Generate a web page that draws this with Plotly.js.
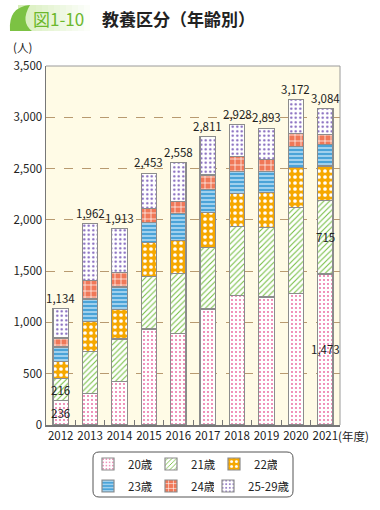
<!DOCTYPE html>
<html>
<head>
<meta charset="utf-8">
<script src="https://cdn.plot.ly/plotly-3.0.1.min.js"></script>
<style>html,body{margin:0;padding:0;background:#fff;}#chart{width:380px;height:510px;}</style>
</head>
<body>
<div id="chart"></div>
<script>
const years = ['2012','2013','2014','2015','2016','2017','2018','2019','2020','2021'];
const totals = [1134,1962,1913,2453,2558,2811,2928,2893,3172,3084];
const age20 = [236,310,423,936,890,1131,1264,1248,1281,1473];
const age21 = [216,407,415,514,586,597,675,675,843,715];
const age22 = [167,293,286,326,326,342,320,342,386,338];
const age23 = [141,219,222,202,258,228,212,206,205,205];
const age24 = [88,182,143,131,117,139,146,120,127,104];
const age25_29 = totals.map((t,i)=>t-age20[i]-age21[i]-age22[i]-age23[i]-age24[i]);
const seriesNames = ['20歳','21歳','22歳','23歳','24歳','25-29歳'];

const FONT = '"Noto Sans CJK JP", "Noto Sans", sans-serif';
const W = 380, H = 510, L = 46, R = 340, T = 66, B = 425;
const px = x => (x - L) / (R - L);
const py = y => (B - y) / (B - T);

const styles = [
  {bg:'#ffffff', fg:'#ea5f9a', shape:'.', size:4, solidity:0.16},
  {bg:'#ffffff', fg:'#78bf45', shape:'/', size:4, solidity:0.28},
  {bg:'#f6a800', fg:'#ffffff', shape:'.', size:6, solidity:0.3},
  {bg:'#4aa3d8', fg:'#e4f4ff', shape:'-', size:4, solidity:0.28},
  {bg:'#f07858', fg:'#ffffff', shape:'+', size:6, solidity:0.22},
  {bg:'#ffffff', fg:'#7a5cb8', shape:'.', size:4.5, solidity:0.2}
];
const data = [age20,age21,age22,age23,age24,age25_29];
const legendOf = ['legend','legend','legend','legend2','legend2','legend3'];

const traces = data.map((vals,k)=>({
  type:'bar', x:years, y:vals, name:seriesNames[k], width:0.52,
  legend: legendOf[k],
  marker:{color:styles[k].bg, line:{color:'#8c8c8c', width:1.2},
    pattern:{shape:styles[k].shape, fgcolor:styles[k].fg, bgcolor:styles[k].bg, size:styles[k].size, solidity:styles[k].solidity, fillmode:'replace'}},
  hoverinfo:'skip'
}));

const fmt = v => v.toLocaleString('en-US');
const tf = {size:11.5, color:'#222', family:FONT};
const ann = [];
years.forEach((yr,i)=>{
  ann.push({x:i, y:totals[i], text:fmt(totals[i]), showarrow:false, yanchor:'bottom', yshift:1, font:tf});
});
// inside labels
ann.push({x:0, y:age20[0]/2, text:fmt(age20[0]), showarrow:false, font:tf});
ann.push({x:0, y:age20[0]+age21[0]/2, text:fmt(age21[0]), showarrow:false, font:tf});
ann.push({x:9, y:age20[9]/2, text:fmt(age20[9]), showarrow:false, font:tf});
ann.push({x:9, y:age20[9]+age21[9]/2, text:fmt(age21[9]), showarrow:false, font:tf});
// axis unit labels
ann.push({xref:'paper', yref:'paper', x:px(22), y:py(47), xanchor:'center', yanchor:'middle', text:'(人)', showarrow:false, font:tf});
ann.push({xref:'paper', yref:'paper', x:px(336), y:py(436), xanchor:'left', yanchor:'middle', text:'(年度)', showarrow:false, font:tf});
// title
ann.push({xref:'paper', yref:'paper', x:px(31), y:py(18), xanchor:'left', yanchor:'middle', text:'図1-10', showarrow:false, font:{size:17,color:'#6cb82c',family:FONT}});
ann.push({xref:'paper', yref:'paper', x:px(100), y:py(18), xanchor:'left', yanchor:'middle', text:'<b>教養区分（年齢別）</b>', showarrow:false, font:{size:17,color:'#222',family:FONT}});

const shapes = [];
// badge gradient
for (let i=0;i<12;i++){
  const x0 = 18 + i*6, x1 = x0 + 6;
  shapes.push({type:'rect', xref:'paper', yref:'paper', x0:px(x0), x1:px(x1), y0:py(31), y1:py(5), fillcolor:'rgba(205,234,170,'+(0.8*(1-i/12)).toFixed(3)+')', line:{width:0}, layer:'below'});
}
// leaf
shapes.push({type:'path', xref:'paper', yref:'paper',
  path:`M ${px(30)} ${py(5)} Q ${px(8)} ${py(7)} ${px(10)} ${py(31)} L ${px(32)} ${py(31)} Q ${px(20)} ${py(22)} ${px(30)} ${py(5)} Z`,
  fillcolor:'#7cc243', line:{width:0}});
// plot border top/right
shapes.push({type:'line', xref:'paper', yref:'paper', x0:0, x1:1, y0:1, y1:1, line:{color:'#9a9a9a', width:1}});
shapes.push({type:'line', xref:'paper', yref:'paper', x0:1, x1:1, y0:0, y1:1, line:{color:'#9a9a9a', width:1}});
// legend frame (rounded)
{
  const x0=93, x1=293, y0=452, y1=497, r=6;
  shapes.push({type:'path', xref:'paper', yref:'paper', layer:'above',
    path:`M ${px(x0+r)} ${py(y0)} L ${px(x1-r)} ${py(y0)} Q ${px(x1)} ${py(y0)} ${px(x1)} ${py(y0+r)} L ${px(x1)} ${py(y1-r)} Q ${px(x1)} ${py(y1)} ${px(x1-r)} ${py(y1)} L ${px(x0+r)} ${py(y1)} Q ${px(x0)} ${py(y1)} ${px(x0)} ${py(y1-r)} L ${px(x0)} ${py(y0+r)} Q ${px(x0)} ${py(y0)} ${px(x0+r)} ${py(y0)} Z`,
    line:{color:'#555', width:1}});
}

const legBase = {orientation:'h', xref:'container', yref:'container', xanchor:'left', yanchor:'middle',
  bgcolor:'rgba(0,0,0,0)', borderwidth:0, itemwidth:30, entrywidth:18, entrywidthmode:'pixels',
  font:{size:11.5, family:FONT, color:'#222'}, traceorder:'normal', itemclick:false};

const layout = {
  width:W, height:H,
  margin:{l:L, r:W-R, t:T, b:H-B},
  paper_bgcolor:'#ffffff', plot_bgcolor:'#fffbe6',
  barmode:'stack', bargap:0.48,
  font:{family:FONT, size:11.5, color:'#222'},
  showlegend:true,
  legend: Object.assign({}, legBase, {x:88/W, y:1-464/H}),
  legend2: Object.assign({}, legBase, {x:88/W, y:1-486/H}),
  legend3: Object.assign({}, legBase, {x:208/W, y:1-486/H, entrywidth:60}),
  xaxis:{type:'category', range:[-0.5,9.5], autorange:false, showline:true, linecolor:'#777', linewidth:1.5, ticks:'inside', tickson:'boundaries', ticklen:5, tickcolor:'#777',
    tickfont:tf, showgrid:false, fixedrange:true, tickangle:0},
  yaxis:{range:[0,3500], autorange:false, dtick:500, tickformat:',d', showline:true, linecolor:'#777', linewidth:1.5, ticks:'',
    showgrid:true, gridcolor:'#b89a70', griddash:'dash', gridwidth:1, zeroline:false,
    tickfont:tf, fixedrange:true},
  annotations:ann, shapes:shapes
};
Plotly.newPlot('chart', traces, layout, {displayModeBar:false, staticPlot:true});
</script>
</body>
</html>
